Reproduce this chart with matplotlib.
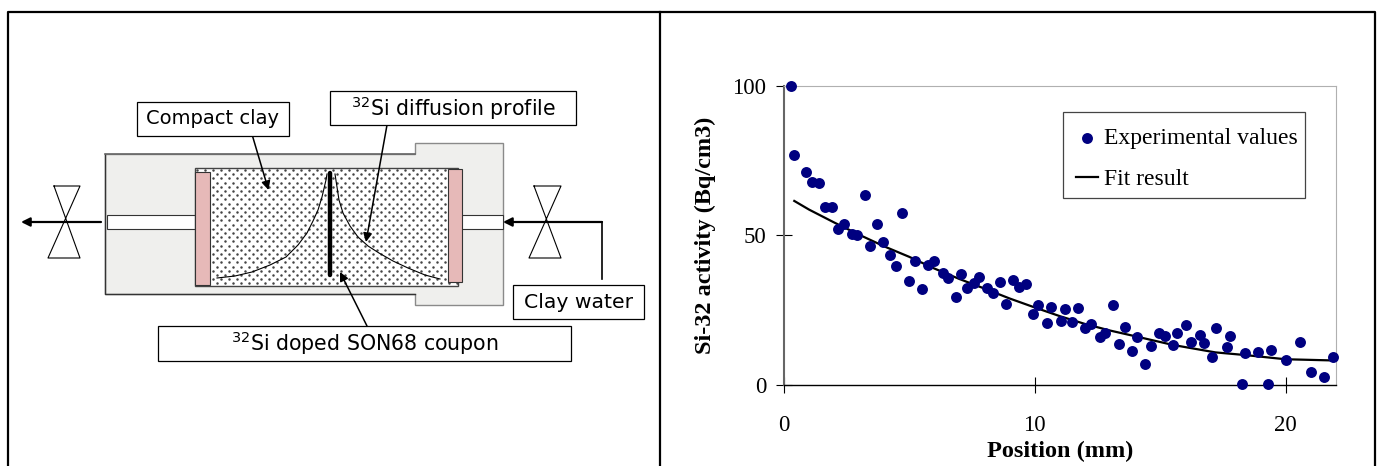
#!/usr/bin/env python3
import numpy as np
import matplotlib
matplotlib.use("Agg")
import matplotlib.pyplot as plt
from matplotlib.patches import Polygon, Rectangle

W, H = 1382, 466

# -------------------------------------
# Data
# -------------------------------------
position = [0.28, 0.41, 0.86, 1.10, 1.40, 1.65, 1.91, 2.17, 2.39, 2.70, 2.91, 3.23, 3.42, 3.70,
            3.94, 4.22, 4.45, 4.69, 4.97, 5.21, 5.49, 5.76, 5.98, 6.33, 6.53, 6.86, 7.06, 7.29,
            7.57, 7.79, 8.10, 8.35, 8.62, 8.86, 9.14, 9.38, 9.65, 9.92, 10.13, 10.49, 10.65,
            11.03, 11.19, 11.50, 11.74, 12.00, 12.26, 12.59, 12.81, 13.13, 13.36, 13.60, 13.86,
            14.08, 14.41, 14.62, 14.97, 15.18, 15.50, 15.68, 16.05, 16.22, 16.57, 16.73, 17.05,
            17.24, 17.66, 17.78, 18.27, 18.37, 18.91, 19.30, 19.42, 20.03, 20.57, 21.01, 21.52,
            21.89]
activity = [100, 76.8, 71, 67.9, 67.6, 59.4, 59.4, 52.2, 53.7, 50.6, 50.2, 63.6, 46.3, 53.9,
            47.8, 43.5, 39.8, 57.6, 34.9, 41.3, 32.1, 40.1, 41.4, 37.4, 35.9, 29.5, 37, 32.4,
            34.1, 36.2, 32.4, 30.7, 34.4, 26.9, 35.1, 32.6, 33.9, 23.8, 26.6, 20.6, 26.2,
            21.4, 25.3, 20.9, 25.7, 19.2, 20.4, 16.1, 17.3, 26.7, 13.8, 19.4, 11.2,
            16.1, 6.9, 13, 17.3, 16.4, 13.4, 17.3, 20.2, 14.5, 16.8, 14, 9.2,
            19.2, 12.8, 16.4, 0.3, 10.7, 11.1, 0.3, 11.8, 8.5, 14.5, 4.3, 2.7, 9.5]

fit_x = [0.41, 1, 2, 3, 4, 5, 6, 7, 8, 9, 10, 11, 12, 13, 14, 15.5, 17.2, 18.4, 20, 20.5, 21.9]
fit_y = [61.5, 58.6, 54.3, 50.2, 46.3, 42.8, 38.9, 35.4, 32.2, 28.9, 25.9, 23, 20.4, 18.2, 16.3,
         13.4, 10.9, 10, 8.6, 8.5, 8.2]

x_ticks = [0, 10, 20]
y_ticks = [0, 50, 100]

fig = plt.figure(figsize=(W / 100, H / 100), dpi=100)

# -------------------------------------
# Diagram and frame, drawn in pixel units
# -------------------------------------
dg = fig.add_axes([0, 0, 1, 1])
dg.set_xlim(0, W)
dg.set_ylim(H, 0)
dg.axis("off")

# outer table frame
dg.plot([8, 8, 1375, 1375], [466, 12, 12, 466], color="black", lw=1.6)
dg.plot([660.5, 660.5], [12, 466], color="black", lw=1.6)

# cell body
body = [(105, 154), (415, 154), (415, 143), (503, 143), (503, 305), (415, 305), (415, 294), (105, 294)]
dg.add_patch(Polygon(body, closed=True, fc="#efefed", ec="#8a8a8a", lw=1.0))
dg.plot([105, 105, 415], [154, 294, 294], color="#333333", lw=1.0)
dg.plot([105, 415], [154, 154], color="#666666", lw=1.2)

# channels
dg.add_patch(Rectangle((107, 215), 90, 14, fc="white", ec="#333333", lw=0.8))
dg.add_patch(Rectangle((460, 215), 43, 14, fc="white", ec="#333333", lw=0.8))

# clay with stipple
dg.add_patch(Rectangle((195, 167.5), 263, 118.5, fc="white", ec="#444444", lw=1.0))
rows = np.arange(170, 285, 4.2)
for i, ry in enumerate(rows):
    cols = np.arange(197 + (i % 2) * 4, 458, 8)
    dg.scatter(cols, np.full(cols.shape, ry), s=3.2, color="#444444", linewidths=0)

# filters
dg.add_patch(Rectangle((195, 172), 15, 113, fc="#e6b9b8", ec="#333333", lw=0.8, zorder=3))
dg.add_patch(Rectangle((448, 169), 14, 113, fc="#e6b9b8", ec="#333333", lw=0.8, zorder=3))

# diffusion curves
curve_lx = [217, 235, 252, 270, 286, 298, 307, 313, 318, 322, 326, 327]
curve_ly = [278, 276, 272, 265, 257, 245, 233, 221, 210, 197, 180, 174]
curve_rx = [335, 337, 339, 343, 350, 358, 368, 379, 393, 408, 425, 440]
curve_ry = [174, 187, 200, 213, 226, 237, 246, 253, 261, 268, 275, 279]
dg.plot(curve_lx, curve_ly, color="black", lw=0.8, zorder=3)
dg.plot(curve_rx, curve_ry, color="black", lw=0.8, zorder=3)

# coupon
dg.plot([330.5, 330.5], [173, 275], color="black", lw=3.2, solid_capstyle="round", zorder=3)

# valves
dg.plot([54, 80, 48, 80, 54], [186, 186, 258, 258, 186], color="black", lw=0.8)
dg.plot([534, 561, 529, 561, 534], [186, 186, 258, 258, 186], color="black", lw=0.8)

# flow lines
arrow = dict(arrowstyle="-|>", color="black", lw=1.6, mutation_scale=13, shrinkA=0, shrinkB=0)
dg.annotate("", xy=(21, 222), xytext=(101, 222), arrowprops=arrow)
dg.annotate("", xy=(503, 222), xytext=(602, 222), arrowprops=arrow)
dg.plot([602, 602], [222, 279], color="black", lw=1.2)

# label pointers
thin = dict(arrowstyle="-|>", color="black", lw=1.1, mutation_scale=13, shrinkA=0, shrinkB=0, zorder=4)
dg.annotate("", xy=(268.5, 190), xytext=(252.5, 136), arrowprops=thin)
dg.annotate("", xy=(366, 242), xytext=(387, 125), arrowprops=thin)
dg.annotate("", xy=(340, 272), xytext=(367, 326), arrowprops=thin)

# label boxes
boxes = [
    (137, 102, 152, 34, "Compact clay", 14),
    (330, 91, 246, 34, r"$^{32}$Si diffusion profile", 14.8),
    (513, 285, 131, 34, "Clay water", 14.7),
    (158, 326, 413, 35, r"$^{32}$Si doped SON68 coupon", 14.8),
]
for bx, by, bw, bh, label, fs in boxes:
    dg.add_patch(Rectangle((bx, by), bw, bh, fc="white", ec="black", lw=0.9, zorder=4))
    dg.text(bx + bw / 2, by + bh / 2, label, ha="center", va="center", fontsize=fs,
            color="black", zorder=5, math_fontfamily="dejavusans")

# legend box, the legend itself sits on top of it without a frame
dg.add_patch(Rectangle((1062.7, 112), 242.3, 85.7, fc="white", ec="#444444", lw=0.9))

# -------------------------------------
# Chart
# -------------------------------------
left, right, top, bottom = 784, 1335.7, 85.7, 385
ax = fig.add_axes([left / W, 1 - bottom / H, (right - left) / W, (bottom - top) / H])
ax.patch.set_alpha(0)
serif = "Liberation Serif"

ax.plot(fit_x, fit_y, color="black", lw=1.6, label="Fit result", zorder=2, clip_on=False)
ax.scatter(position, activity, s=62, color="#000080", linewidths=0,
           label="Experimental values", zorder=3, clip_on=False)

ax.set_xlim(0, 22)
ax.set_ylim(0, 100)
ax.set_xticks(x_ticks)
ax.set_yticks(y_ticks)
ax.tick_params(direction="inout", length=11.5, width=0.8, labelsize=16.5)
ax.tick_params(axis="x", pad=16)
ax.tick_params(axis="y", pad=7)
for lab in ax.get_xticklabels() + ax.get_yticklabels():
    lab.set_family(serif)

ax.spines["left"].set_color("#666666")
ax.spines["left"].set_linewidth(1.5)
ax.spines["bottom"].set_color("black")
ax.spines["bottom"].set_linewidth(1.0)
ax.spines["top"].set_color("#b0b0b0")
ax.spines["right"].set_color("#b0b0b0")

ax.set_xlabel("Position (mm)", family=serif, weight="bold", fontsize=17.5, va="center")
ax.xaxis.set_label_coords(0.5, -(451 - bottom) / (bottom - top))
ax.set_ylabel("Si-32 activity (Bq/cm3)", family=serif, weight="bold", fontsize=17.5, va="center")
ax.yaxis.set_label_coords((705 - left) / (right - left), 0.5)

handles, labels = ax.get_legend_handles_labels()
ax.legend(handles[::-1], labels[::-1], loc="upper left",
          bbox_to_anchor=((1063.7 - left) / (right - left), 1 - (116 - top) / (bottom - top)),
          borderaxespad=0, frameon=False,
          prop={"family": serif, "size": 17}, handlelength=0.95, handletextpad=0.25,
          labelspacing=0.82, borderpad=0.5, scatterpoints=1)

fig.savefig("out.png", dpi=100)
